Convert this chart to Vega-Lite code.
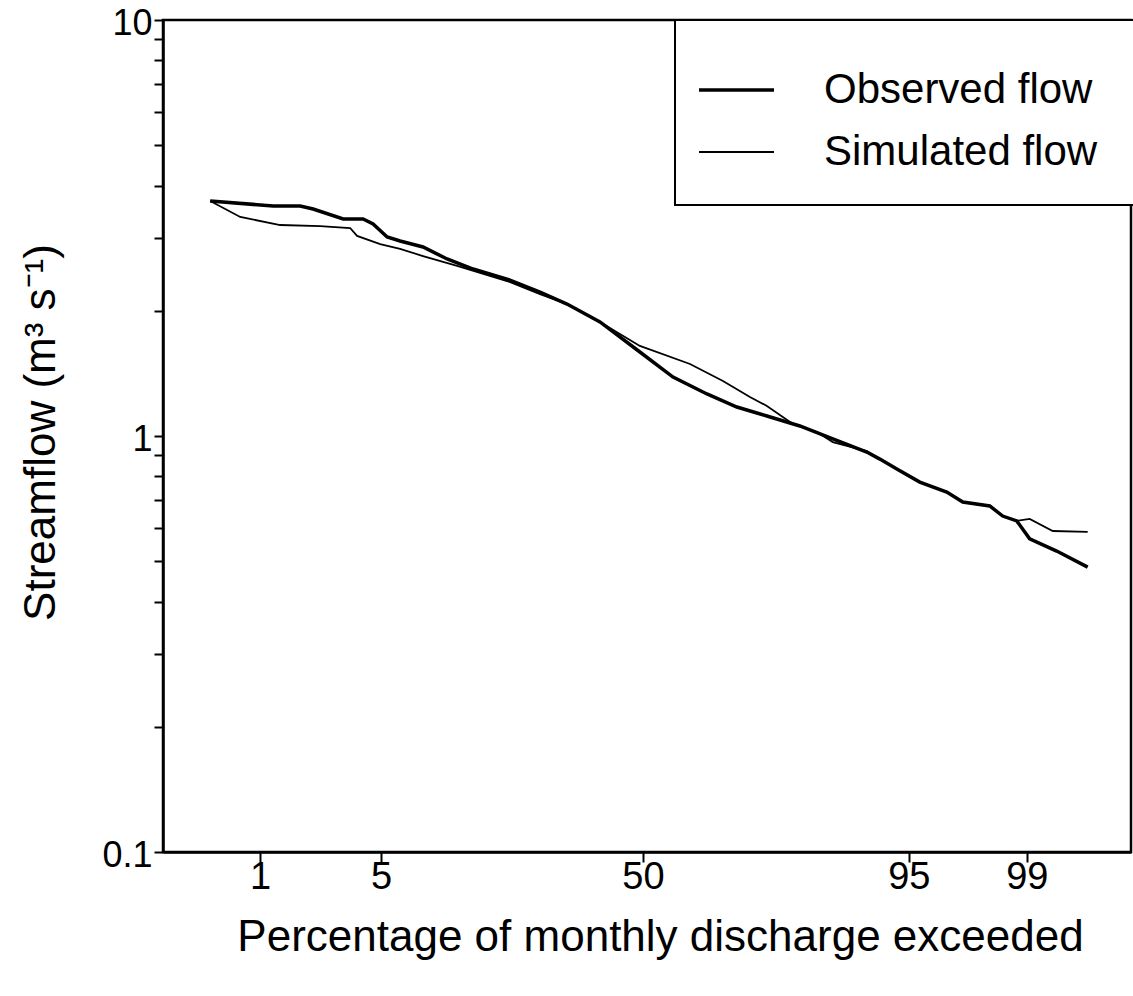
{
  "$schema": "https://vega.github.io/schema/vega-lite/v6.json",
  "width": 968,
  "height": 832,
  "autosize": {"type": "none"},
  "padding": {"left": 163, "top": 20, "right": 2, "bottom": 144},
  "background": "white",
  "config": {
    "view": {"stroke": "black", "strokeWidth": 2.5},
    "font": "Liberation Sans",
    "legend": {"strokeWidth": 2}
  },
  "data": {
    "values": [
      {"series": "Observed flow", "z": -2.678, "flow": 3.672},
      {"series": "Observed flow", "z": -2.288, "flow": 3.572},
      {"series": "Observed flow", "z": -2.121, "flow": 3.572},
      {"series": "Observed flow", "z": -2.041, "flow": 3.513},
      {"series": "Observed flow", "z": -1.855, "flow": 3.324},
      {"series": "Observed flow", "z": -1.732, "flow": 3.324},
      {"series": "Observed flow", "z": -1.670, "flow": 3.233},
      {"series": "Observed flow", "z": -1.583, "flow": 3.009},
      {"series": "Observed flow", "z": -1.503, "flow": 2.943},
      {"series": "Observed flow", "z": -1.361, "flow": 2.847},
      {"series": "Observed flow", "z": -1.212, "flow": 2.664},
      {"series": "Observed flow", "z": -1.051, "flow": 2.520},
      {"series": "Observed flow", "z": -0.841, "flow": 2.384},
      {"series": "Observed flow", "z": -0.637, "flow": 2.219},
      {"series": "Observed flow", "z": -0.470, "flow": 2.076},
      {"series": "Observed flow", "z": -0.266, "flow": 1.880},
      {"series": "Observed flow", "z": -0.019, "flow": 1.592},
      {"series": "Observed flow", "z": 0.186, "flow": 1.386},
      {"series": "Observed flow", "z": 0.396, "flow": 1.262},
      {"series": "Observed flow", "z": 0.581, "flow": 1.174},
      {"series": "Observed flow", "z": 0.767, "flow": 1.117},
      {"series": "Observed flow", "z": 0.971, "flow": 1.057},
      {"series": "Observed flow", "z": 1.175, "flow": 0.984},
      {"series": "Observed flow", "z": 1.385, "flow": 0.915},
      {"series": "Observed flow", "z": 1.466, "flow": 0.880},
      {"series": "Observed flow", "z": 1.571, "flow": 0.833},
      {"series": "Observed flow", "z": 1.713, "flow": 0.775},
      {"series": "Observed flow", "z": 1.880, "flow": 0.733},
      {"series": "Observed flow", "z": 1.979, "flow": 0.694},
      {"series": "Observed flow", "z": 2.146, "flow": 0.679},
      {"series": "Observed flow", "z": 2.226, "flow": 0.642},
      {"series": "Observed flow", "z": 2.313, "flow": 0.625},
      {"series": "Observed flow", "z": 2.393, "flow": 0.566},
      {"series": "Observed flow", "z": 2.560, "flow": 0.529},
      {"series": "Observed flow", "z": 2.752, "flow": 0.484},
      {"series": "Simulated flow", "z": -2.678, "flow": 3.672},
      {"series": "Simulated flow", "z": -2.492, "flow": 3.361},
      {"series": "Simulated flow", "z": -2.245, "flow": 3.215},
      {"series": "Simulated flow", "z": -1.998, "flow": 3.197},
      {"series": "Simulated flow", "z": -1.812, "flow": 3.162},
      {"series": "Simulated flow", "z": -1.769, "flow": 3.026},
      {"series": "Simulated flow", "z": -1.626, "flow": 2.894},
      {"series": "Simulated flow", "z": -1.503, "flow": 2.816},
      {"series": "Simulated flow", "z": -1.361, "flow": 2.708},
      {"series": "Simulated flow", "z": -1.150, "flow": 2.563},
      {"series": "Simulated flow", "z": -0.841, "flow": 2.358},
      {"series": "Simulated flow", "z": -0.637, "flow": 2.194},
      {"series": "Simulated flow", "z": -0.470, "flow": 2.076},
      {"series": "Simulated flow", "z": -0.266, "flow": 1.880},
      {"series": "Simulated flow", "z": -0.019, "flow": 1.646},
      {"series": "Simulated flow", "z": 0.291, "flow": 1.490},
      {"series": "Simulated flow", "z": 0.495, "flow": 1.356},
      {"series": "Simulated flow", "z": 0.662, "flow": 1.241},
      {"series": "Simulated flow", "z": 0.767, "flow": 1.181},
      {"series": "Simulated flow", "z": 0.928, "flow": 1.069},
      {"series": "Simulated flow", "z": 1.076, "flow": 1.022},
      {"series": "Simulated flow", "z": 1.175, "flow": 0.967},
      {"series": "Simulated flow", "z": 1.385, "flow": 0.920},
      {"series": "Simulated flow", "z": 1.466, "flow": 0.880},
      {"series": "Simulated flow", "z": 1.571, "flow": 0.833},
      {"series": "Simulated flow", "z": 1.713, "flow": 0.775},
      {"series": "Simulated flow", "z": 1.880, "flow": 0.733},
      {"series": "Simulated flow", "z": 1.979, "flow": 0.694},
      {"series": "Simulated flow", "z": 2.146, "flow": 0.679},
      {"series": "Simulated flow", "z": 2.226, "flow": 0.642},
      {"series": "Simulated flow", "z": 2.313, "flow": 0.625},
      {"series": "Simulated flow", "z": 2.393, "flow": 0.632},
      {"series": "Simulated flow", "z": 2.536, "flow": 0.591},
      {"series": "Simulated flow", "z": 2.752, "flow": 0.588}
    ]
  },
  "mark": {"type": "line", "color": "black", "clip": true},
  "encoding": {
    "x": {
      "field": "z",
      "type": "quantitative",
      "scale": {"domain": [-2.97, 3.02], "nice": false, "zero": false},
      "axis": {
        "title": "Percentage of monthly discharge exceeded",
        "values": [-2.37, -1.62, 0, 1.645, 2.375],
        "labelExpr": "datum.value < -2 ? '1' : datum.value < -1 ? '5' : datum.value < 1 ? '50' : datum.value < 2 ? '95' : '99'",
        "grid": false,
        "domainColor": "black",
        "domainWidth": 2.5,
        "tickColor": "black",
        "tickWidth": 2,
        "tickSize": 10,
        "labelFont": "Liberation Sans",
        "labelFontSize": 38,
        "labelColor": "black",
        "labelPadding": -4,
        "labelFlush": false,
        "labelOverlap": false,
        "titleFont": "Liberation Sans",
        "titleFontSize": 44,
        "titleFontWeight": "normal",
        "titleColor": "black",
        "titleX": 497,
        "titleY": 85,
        "titleBaseline": "middle",
        "titleAlign": "center"
      }
    },
    "y": {
      "field": "flow",
      "type": "quantitative",
      "scale": {"type": "log", "domain": [0.1, 10], "nice": false},
      "axis": {
        "title": "Streamflow (m³ s⁻¹)",
        "values": [0.1, 0.2, 0.3, 0.4, 0.5, 0.6, 0.7, 0.8, 0.9, 1, 2, 3, 4, 5, 6, 7, 8, 9, 10],
        "labelExpr": "datum.value === 0.1 ? '0.1' : datum.value === 1 ? '1' : datum.value === 10 ? '10' : ''",
        "grid": false,
        "domainColor": "black",
        "domainWidth": 2.5,
        "tickColor": "black",
        "tickWidth": 2,
        "tickSize": 9,
        "labelFont": "Liberation Sans",
        "labelFontSize": 36,
        "labelColor": "black",
        "labelPadding": 2,
        "labelOffset": 3,
        "labelFlush": false,
        "labelOverlap": false,
        "titleFont": "Liberation Sans",
        "titleFontSize": 44,
        "titleFontWeight": "normal",
        "titleColor": "black",
        "titleX": -122,
        "titleY": 412,
        "titleAngle": -90,
        "titleBaseline": "middle",
        "titleAlign": "center"
      }
    },
    "detail": {"field": "series", "type": "nominal"},
    "strokeWidth": {
      "field": "series",
      "type": "ordinal",
      "scale": {"domain": ["Observed flow", "Simulated flow"], "range": [3.5, 1.8]},
      "legend": {
        "title": "\u2003",
        "titleFontSize": 10,
        "titlePadding": 7,
        "titleOrient": "top",
        "orient": "none",
        "legendX": 512,
        "legendY": 0,
        "direction": "vertical",
        "symbolType": "stroke",
        "symbolSize": 5625,
        "symbolStrokeColor": "black",
        "labelFont": "Liberation Sans",
        "labelFontSize": 42,
        "labelColor": "black",
        "labelOffset": 48,
        "labelLimit": 600,
        "padding": 22,
        "strokeColor": "black",
        "fillColor": "white",
        "clipHeight": 62,
        "rowPadding": 0,
        "labelExpr": "datum.label + '\u2800'"
      }
    }
  }
}
